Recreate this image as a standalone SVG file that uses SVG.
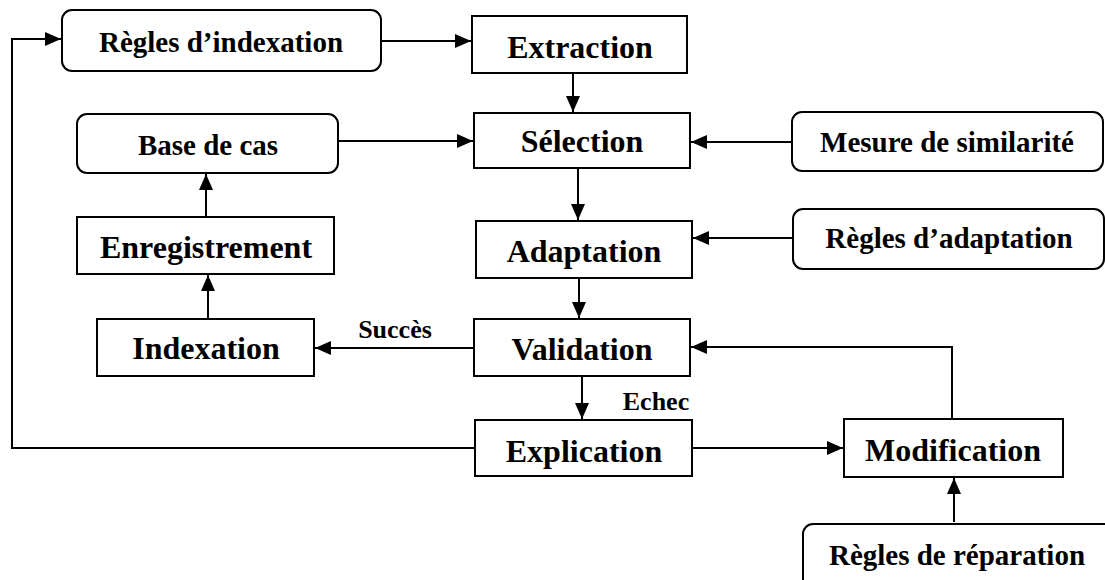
<svg xmlns="http://www.w3.org/2000/svg" width="1105" height="580" viewBox="0 0 1105 580">
<style>
.box{fill:#fff;stroke:#000;stroke-width:2}
.t{font-family:"Liberation Serif","Times New Roman",serif;font-weight:bold;fill:#000;text-anchor:middle}
.big{font-size:32px}
.mid{font-size:29px}
.lbl{font-size:26px}
.c{fill:none;stroke:#000;stroke-width:2}
</style>
<defs>
<marker id="ah" markerUnits="userSpaceOnUse" markerWidth="17" markerHeight="15" refX="16" refY="7" orient="auto">
<path d="M0,0 L16,7 L0,14 z" fill="#000"/>
</marker>
</defs>
<rect width="1105" height="580" fill="#fff"/>
<g id="connectors">
<polyline class="c" points="475,448 12,448 12,39 61,39" marker-end="url(#ah)"/>
<line class="c" x1="381" y1="41" x2="471" y2="41" marker-end="url(#ah)"/>
<line class="c" x1="573" y1="73" x2="573" y2="112" marker-end="url(#ah)"/>
<line class="c" x1="338" y1="141" x2="473" y2="141" marker-end="url(#ah)"/>
<line class="c" x1="792" y1="142" x2="691" y2="142" marker-end="url(#ah)"/>
<line class="c" x1="578" y1="168" x2="578" y2="220" marker-end="url(#ah)"/>
<line class="c" x1="793" y1="238" x2="693" y2="238" marker-end="url(#ah)"/>
<line class="c" x1="206" y1="217" x2="206" y2="174" marker-end="url(#ah)"/>
<line class="c" x1="208" y1="319" x2="208" y2="275" marker-end="url(#ah)"/>
<line class="c" x1="579" y1="278" x2="579" y2="318" marker-end="url(#ah)"/>
<line class="c" x1="474" y1="348" x2="315" y2="348" marker-end="url(#ah)"/>
<line class="c" x1="582" y1="376" x2="582" y2="419" marker-end="url(#ah)"/>
<line class="c" x1="692" y1="448" x2="843" y2="448" marker-end="url(#ah)"/>
<polyline class="c" points="952,419 952,347 691,347" marker-end="url(#ah)"/>
<line class="c" x1="954" y1="522" x2="954" y2="478" marker-end="url(#ah)"/>
<text class="t lbl" x="395" y="338">Succès</text>
<text class="t lbl" x="656" y="410">Echec</text>
</g>
<g id="regles-indexation"><rect class="box" x="62" y="10" width="319" height="61" rx="10"/><text class="t mid" x="221" y="52">Règles d’indexation</text></g>
<g id="extraction"><rect class="box" x="472" y="16" width="215" height="57"/><text class="t big" x="580" y="58">Extraction</text></g>
<g id="base-de-cas"><rect class="box" x="77" y="114" width="261" height="59" rx="10"/><text class="t mid" x="208" y="155">Base de cas</text></g>
<g id="selection"><rect class="box" x="474" y="113" width="216" height="55"/><text class="t big" x="582" y="152">Sélection</text></g>
<g id="mesure-similarite"><rect class="box" x="792" y="112" width="311" height="59" rx="10"/><text class="t mid" x="947" y="152">Mesure de similarité</text></g>
<g id="enregistrement"><rect class="box" x="77" y="217" width="257" height="57"/><text class="t big" x="206" y="258">Enregistrement</text></g>
<g id="adaptation"><rect class="box" x="476" y="221" width="216" height="57"/><text class="t big" x="584" y="262">Adaptation</text></g>
<g id="regles-adaptation"><rect class="box" x="793" y="209" width="311" height="60" rx="10"/><text class="t mid" x="949" y="248">Règles d’adaptation</text></g>
<g id="indexation"><rect class="box" x="97" y="319" width="217" height="57"/><text class="t big" x="206" y="359">Indexation</text></g>
<g id="validation"><rect class="box" x="474" y="319" width="216" height="57"/><text class="t big" x="582" y="360">Validation</text></g>
<g id="explication"><rect class="box" x="475" y="420" width="217" height="56"/><text class="t big" x="584" y="462">Explication</text></g>
<g id="modification"><rect class="box" x="844" y="419" width="219" height="58"/><text class="t big" x="953" y="461">Modification</text></g>
<g id="regles-reparation"><rect class="box" x="803" y="524" width="320" height="70" rx="10"/><text class="t mid" x="957" y="565">Règles de réparation</text></g>
</svg>
